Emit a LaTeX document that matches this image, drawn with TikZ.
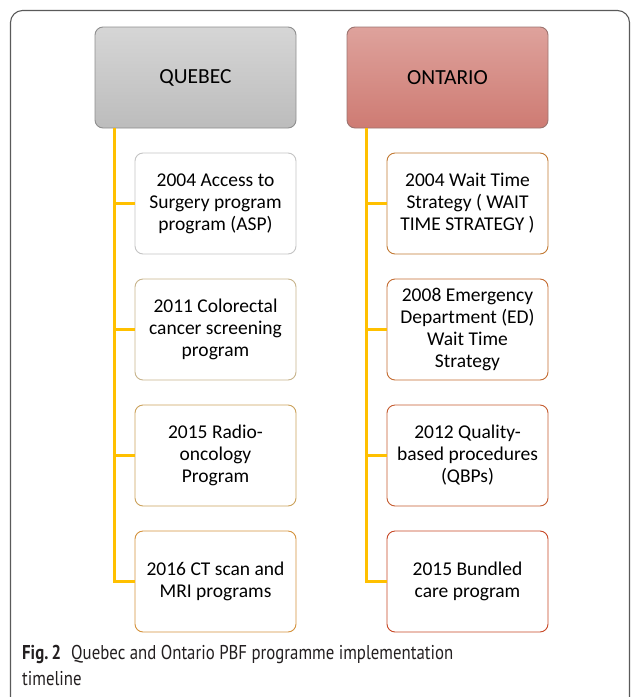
\documentclass[tikz,border=0pt]{standalone}
\usepackage{fontspec}
\setmainfont{Carlito}
\newfontfamily\capfont[FakeStretch=0.84]{PT Sans}
\begin{document}
\begin{tikzpicture}[x=1pt,y=-1pt,
  head/.style={draw=#1, line width=0.9pt, rounded corners=8pt, minimum width=201pt,
    minimum height=101pt, inner sep=0pt, font=\fontsize{21.5}{25}\selectfont},
  item/.style={draw=#1, line width=0.9pt, rounded corners=8pt, fill=white,
    minimum width=161pt, minimum height=101pt, align=center,
    inner sep=0pt, font=\fontsize{19.5}{22}\selectfont},
  trunk/.style={draw=yellowline, line width=2.4pt}]
\definecolor{frame}{HTML}{5A5A5A}
\definecolor{captext}{HTML}{231F20}
\definecolor{yellowline}{HTML}{FFC000}
\definecolor{qtop}{HTML}{D6D6D6}
\definecolor{qbot}{HTML}{BCBCBC}
\definecolor{qedge}{HTML}{8E8E8E}
\definecolor{otop}{HTML}{DEA29C}
\definecolor{obot}{HTML}{CE7B73}
\definecolor{oedge}{HTML}{9C7470}
\definecolor{qa}{HTML}{C4C4C4}
\definecolor{qb}{HTML}{C8B48C}
\definecolor{qc}{HTML}{CBA25C}
\definecolor{qd}{HTML}{D4923C}
\definecolor{oa}{HTML}{C27A34}
\definecolor{ob}{HTML}{C46C32}
\definecolor{oc}{HTML}{C55C30}
\definecolor{od}{HTML}{C74826}
\useasboundingbox (0,0) rectangle (630,697);
\begin{scope}
\clip (0,0) rectangle (630,697);
% outer frame, open at the bottom and right edges
\draw[frame, line width=1.1pt, rounded corners=12pt] (10.5,740) -- (10.5,10.5) -- (629.5,10.5) -- (629.5,740);
\end{scope}

% column headers
\node[head=qedge, top color=qtop, bottom color=qbot] (qhead) at (195.5,77.5) {QUEBEC};
\node[head=oedge, top color=otop, bottom color=obot] (ohead) at (447.5,77.5) {ONTARIO};

% connectors
\coordinate (qt) at ([xshift=20pt]qhead.south west);
\coordinate (ot) at ([xshift=20pt]ohead.south west);

% timeline items
\node[item=qa] (q1) at (215.5,203.5) {2004 Access to\\Surgery program\\program (ASP)};
\node[item=qb] (q2) at (215.5,329.5) {2011 Colorectal\\cancer screening\\program};
\node[item=qc] (q3) at (215.5,455.5) {2015 Radio-\\oncology\\Program};
\node[item=qd] (q4) at (215.5,581.5) {2016 CT scan and\\MRI programs};

\node[item=oa] (o1) at (467.5,203.5) {2004 Wait Time\\Strategy ( WAIT\\TIME STRATEGY )};
\node[item=ob] (o2) at (467.5,329.5) {2008 Emergency\\Department (ED)\\Wait Time\\Strategy};
\node[item=oc] (o3) at (467.5,455.5) {2012 Quality-\\based procedures\\(QBPs)};
\node[item=od] (o4) at (467.5,581.5) {2015 Bundled\\care program};

\draw[trunk] (qt) |- (q4.west);
\draw[trunk] (qt |- q1.west) -- (q1.west);
\draw[trunk] (qt |- q2.west) -- (q2.west);
\draw[trunk] (qt |- q3.west) -- (q3.west);
\draw[trunk] (ot) |- (o4.west);
\draw[trunk] (ot |- o1.west) -- (o1.west);
\draw[trunk] (ot |- o2.west) -- (o2.west);
\draw[trunk] (ot |- o3.west) -- (o3.west);

% caption (anchored on the baseline of its last line)
\node[anchor=base west, inner sep=0pt, align=left,
  font=\capfont\fontsize{20}{26.5}\selectfont, text=captext] (cap) at (22,685.5)
  {\textbf{Fig.\,2}\hspace{0.5em}Quebec and Ontario PBF programme implementation\\timeline};
\end{tikzpicture}
\end{document}
